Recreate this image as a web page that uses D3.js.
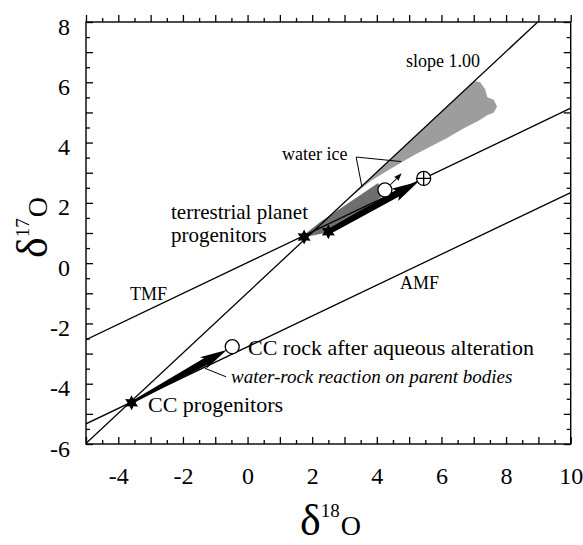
<!DOCTYPE html>
<html><head><meta charset="utf-8">
<script src="https://cdn.jsdelivr.net/npm/d3@7"></script>
<style>
body{margin:0;background:#fff}
svg{display:block}
text{font-family:"Liberation Serif","Times New Roman",serif;fill:#000}
</style>
</head><body>
<svg id="c" width="583" height="545"></svg>
<script>
// ---------- data ----------
const xDomain = [-5, 10];
const yDomain = [-6, 8];
const xTickLabels = [-4, -2, 0, 2, 4, 6, 8, 10];
const yTickLabels = [-6, -4, -2, 0, 2, 4, 6, 8];
const slopeLine = [[-5.3, -6.28], [9.2, 8.22]];   // slope 1.00
const tmfLine = [[-5, -2.54], [10, 5.14]];        // TMF
const amfLine = [[-5, -5.33], [10, 2.34]];        // AMF
const stars = [[-3.59, -4.63], [1.75, 0.87], [2.5, 1.04]];
const openCircles = [[-0.475, -2.77], [4.25, 2.43]];
const earth = [5.45, 2.81];
const waterIce = [[1.95,0.97],[7.02,6.04],[7.2,6.0],[7.35,5.78],[7.42,5.5],[7.62,5.42],[7.72,5.2],[7.62,5.0],[7.4,4.9],[7.19,4.75],[6.68,4.47],[6.16,4.14],[5.65,3.86],[5.13,3.57],[4.72,3.31],[4.3,3.05],[3.8,2.72],[3.2,2.2],[2.6,1.6],[2.1,1.1]];
const iceWedge = [[1.62,0.83],[2.24,1.36],[4.04,2.66],[4.19,2.23],[2.55,1.03]];
const bigArrows = [
  {from: [-3.59, -4.63], to: [-0.645, -2.88]},
  {from: [2.5, 1.04], to: [5.285, 2.70]}
];
const thinArrow = {from: [4.42, 2.6], to: [4.77, 2.98]};
const leaders = [
  [[3.36, 3.52], [4.75, 3.37]],
  [[3.36, 3.52], [3.54, 2.53]],
  [[-1.317, -3.49], [-0.667, -3.77]]
];

// ---------- layout ----------
const svg = d3.select("#c");
const L = 86, R = 570.7, T = 22, B = 444;
const x = d3.scaleLinear().domain(xDomain).range([L, R]);
const y = d3.scaleLinear().domain(yDomain).range([B, T]);

svg.append("defs").append("clipPath").attr("id","clip")
  .append("rect").attr("x",L).attr("y",T).attr("width",R-L).attr("height",B-T);

const plot = svg.append("g").attr("clip-path","url(#clip)");
const line = d3.line().x(d=>x(d[0])).y(d=>y(d[1]));

// water ice region
plot.append("path").attr("d", line(waterIce)+"Z").attr("fill","#9d9d9d");
plot.append("path").attr("d", line(iceWedge)+"Z").attr("fill","#6e6e6e");

// lines
[slopeLine, tmfLine, amfLine].forEach(l=>{
  plot.append("path").attr("d", line(l)).attr("fill","none").attr("stroke","#000").attr("stroke-width",1.3);
});

// leader lines
leaders.forEach(l=>{
  plot.append("path").attr("d", line(l)).attr("fill","none").attr("stroke","#000").attr("stroke-width",1);
});

// arrow polygon
function arrowPath(p0, p1, w0, w1, hl, hw, notch){
  const dx=p1[0]-p0[0], dy=p1[1]-p0[1], len=Math.hypot(dx,dy);
  const ux=dx/len, uy=dy/len, nx=-uy, ny=ux;
  const bx=p1[0]-ux*hl, by=p1[1]-uy*hl;
  const pts=[
    [p0[0]+nx*w0/2, p0[1]+ny*w0/2],
    [bx+nx*w1/2, by+ny*w1/2],
    [bx+nx*hw/2-ux*notch, by+ny*hw/2-uy*notch],
    [p1[0],p1[1]],
    [bx-nx*hw/2-ux*notch, by-ny*hw/2-uy*notch],
    [bx-nx*w1/2, by-ny*w1/2],
    [p0[0]-nx*w0/2, p0[1]-ny*w0/2]
  ];
  return "M"+pts.map(p=>p.join(",")).join("L")+"Z";
}
const aSpec = [{w0:2.5,w1:7.5,hl:24,hw:13,notch:3},{w0:5.5,w1:7,hl:24,hw:14,notch:3}];
bigArrows.forEach((a,i)=>{
  const s=aSpec[i];
  plot.append("path").attr("d", arrowPath([x(a.from[0]),y(a.from[1])],[x(a.to[0]),y(a.to[1])],s.w0,s.w1,s.hl,s.hw,s.notch)).attr("fill","#000");
});
plot.append("path").attr("d", arrowPath([x(thinArrow.from[0]),y(thinArrow.from[1])],[x(thinArrow.to[0]),y(thinArrow.to[1])],1,1,7,6,1)).attr("fill","#000");

// stars (6-pointed)
function starPath(cx, cy, ro, ri){
  const pts=d3.range(12).map(i=>{
    const a=-Math.PI/2+i*Math.PI/6, r=i%2?ri:ro;
    return [cx+r*Math.cos(a), cy+r*Math.sin(a)];
  });
  return "M"+pts.map(p=>p.join(",")).join("L")+"Z";
}
stars.forEach(s=>{
  plot.append("path").attr("d", starPath(x(s[0]),y(s[1]),7.5,4)).attr("fill","#000");
});

// open circles
openCircles.forEach(c=>{
  plot.append("circle").attr("cx",x(c[0])).attr("cy",y(c[1])).attr("r",7)
    .attr("fill","#fff").attr("stroke","#000").attr("stroke-width",1.3);
});
// earth symbol
{
  const cx=x(earth[0]), cy=y(earth[1]), r=7;
  const g=plot.append("g").attr("stroke","#000").attr("stroke-width",1.3);
  g.append("circle").attr("cx",cx).attr("cy",cy).attr("r",r).attr("fill","#fff");
  g.append("line").attr("x1",cx-r).attr("x2",cx+r).attr("y1",cy).attr("y2",cy);
  g.append("line").attr("x1",cx).attr("x2",cx).attr("y1",cy-r).attr("y2",cy+r);
}

// ---------- axes ----------
const majorX = x.ticks(15), minorX = x.ticks(30).filter(v=>!Number.isInteger(v));
const majorY = y.ticks(14), minorY = y.ticks(28).filter(v=>!Number.isInteger(v));
function ax(gen, scale, vals, size, tr){
  const g = svg.append("g").attr("transform",tr)
    .call(gen(scale).tickValues(vals).tickSize(size).tickFormat(""));
  g.select(".domain").remove();
  g.selectAll("line").attr("stroke-width",1.3);
}
ax(d3.axisTop, x, majorX, 7, `translate(0,${B})`);
ax(d3.axisTop, x, minorX, 4, `translate(0,${B})`);
ax(d3.axisTop, x, majorX, 7, `translate(0,${T})`);
ax(d3.axisTop, x, minorX, 4, `translate(0,${T})`);
ax(d3.axisRight, y, majorY, 7, `translate(${L},0)`);
ax(d3.axisRight, y, minorY, 4, `translate(${L},0)`);
ax(d3.axisLeft, y, majorY, 7, `translate(${R},0)`);
ax(d3.axisLeft, y, minorY, 4, `translate(${R},0)`);

svg.append("rect").attr("x",L).attr("y",T).attr("width",R-L).attr("height",B-T)
  .attr("fill","none").attr("stroke","#000").attr("stroke-width",1.4);

// tick labels
const serif = '"Liberation Serif","Times New Roman",serif';
const xl = svg.append("g").attr("transform",`translate(0,${B})`)
  .call(d3.axisBottom(x).tickValues(xTickLabels).tickSize(0).tickPadding(23).tickFormat(d=>String(d)));
xl.select(".domain").remove();
xl.attr("font-family", serif);
xl.selectAll("text").style("font-family",serif).style("font-size","24px");
const yl = svg.append("g").attr("transform",`translate(${L},0)`)
  .call(d3.axisLeft(y).tickValues(yTickLabels).tickSize(0).tickPadding(16).tickFormat(d=>String(d)));
yl.select(".domain").remove();
yl.attr("font-family", serif);
yl.selectAll("text").style("font-family",serif).style("font-size","24px").attr("dy","0.5em");

// axis titles
function deltaLabel(g, sup){
  const t = g.append("text");
  t.append("tspan").attr("font-size",44).text("δ");
  t.append("tspan").attr("font-size",19).attr("dy",-18).text(sup);
  t.append("tspan").attr("font-size",28).attr("dy",18).attr("dx",1).text("O");
}
deltaLabel(svg.append("g").attr("transform","translate(300,535)"), "18");
deltaLabel(svg.append("g").attr("transform","translate(47,258) rotate(-90)"), "17");

// annotations
const notes = [
  {t:"slope 1.00", x:406, y:67, s:18},
  {t:"water ice", x:282, y:160, s:18},
  {t:"TMF", x:130, y:300, s:18},
  {t:"AMF", x:400, y:289, s:18},
  {t:"CC rock after aqueous alteration", x:248, y:355, s:22},
  {t:"water-rock reaction on parent bodies", x:231, y:383, s:19, i:true},
  {t:"CC progenitors", x:148, y:412, s:22},
  {t:"terrestrial planet", x:171, y:219, s:21},
  {t:"progenitors", x:171, y:242, s:21}
];
notes.forEach(n=>{
  svg.append("text").attr("x",n.x).attr("y",n.y).attr("font-size",n.s)
    .attr("font-style",n.i?"italic":"normal").text(n.t);
});
</script>
</body></html>
